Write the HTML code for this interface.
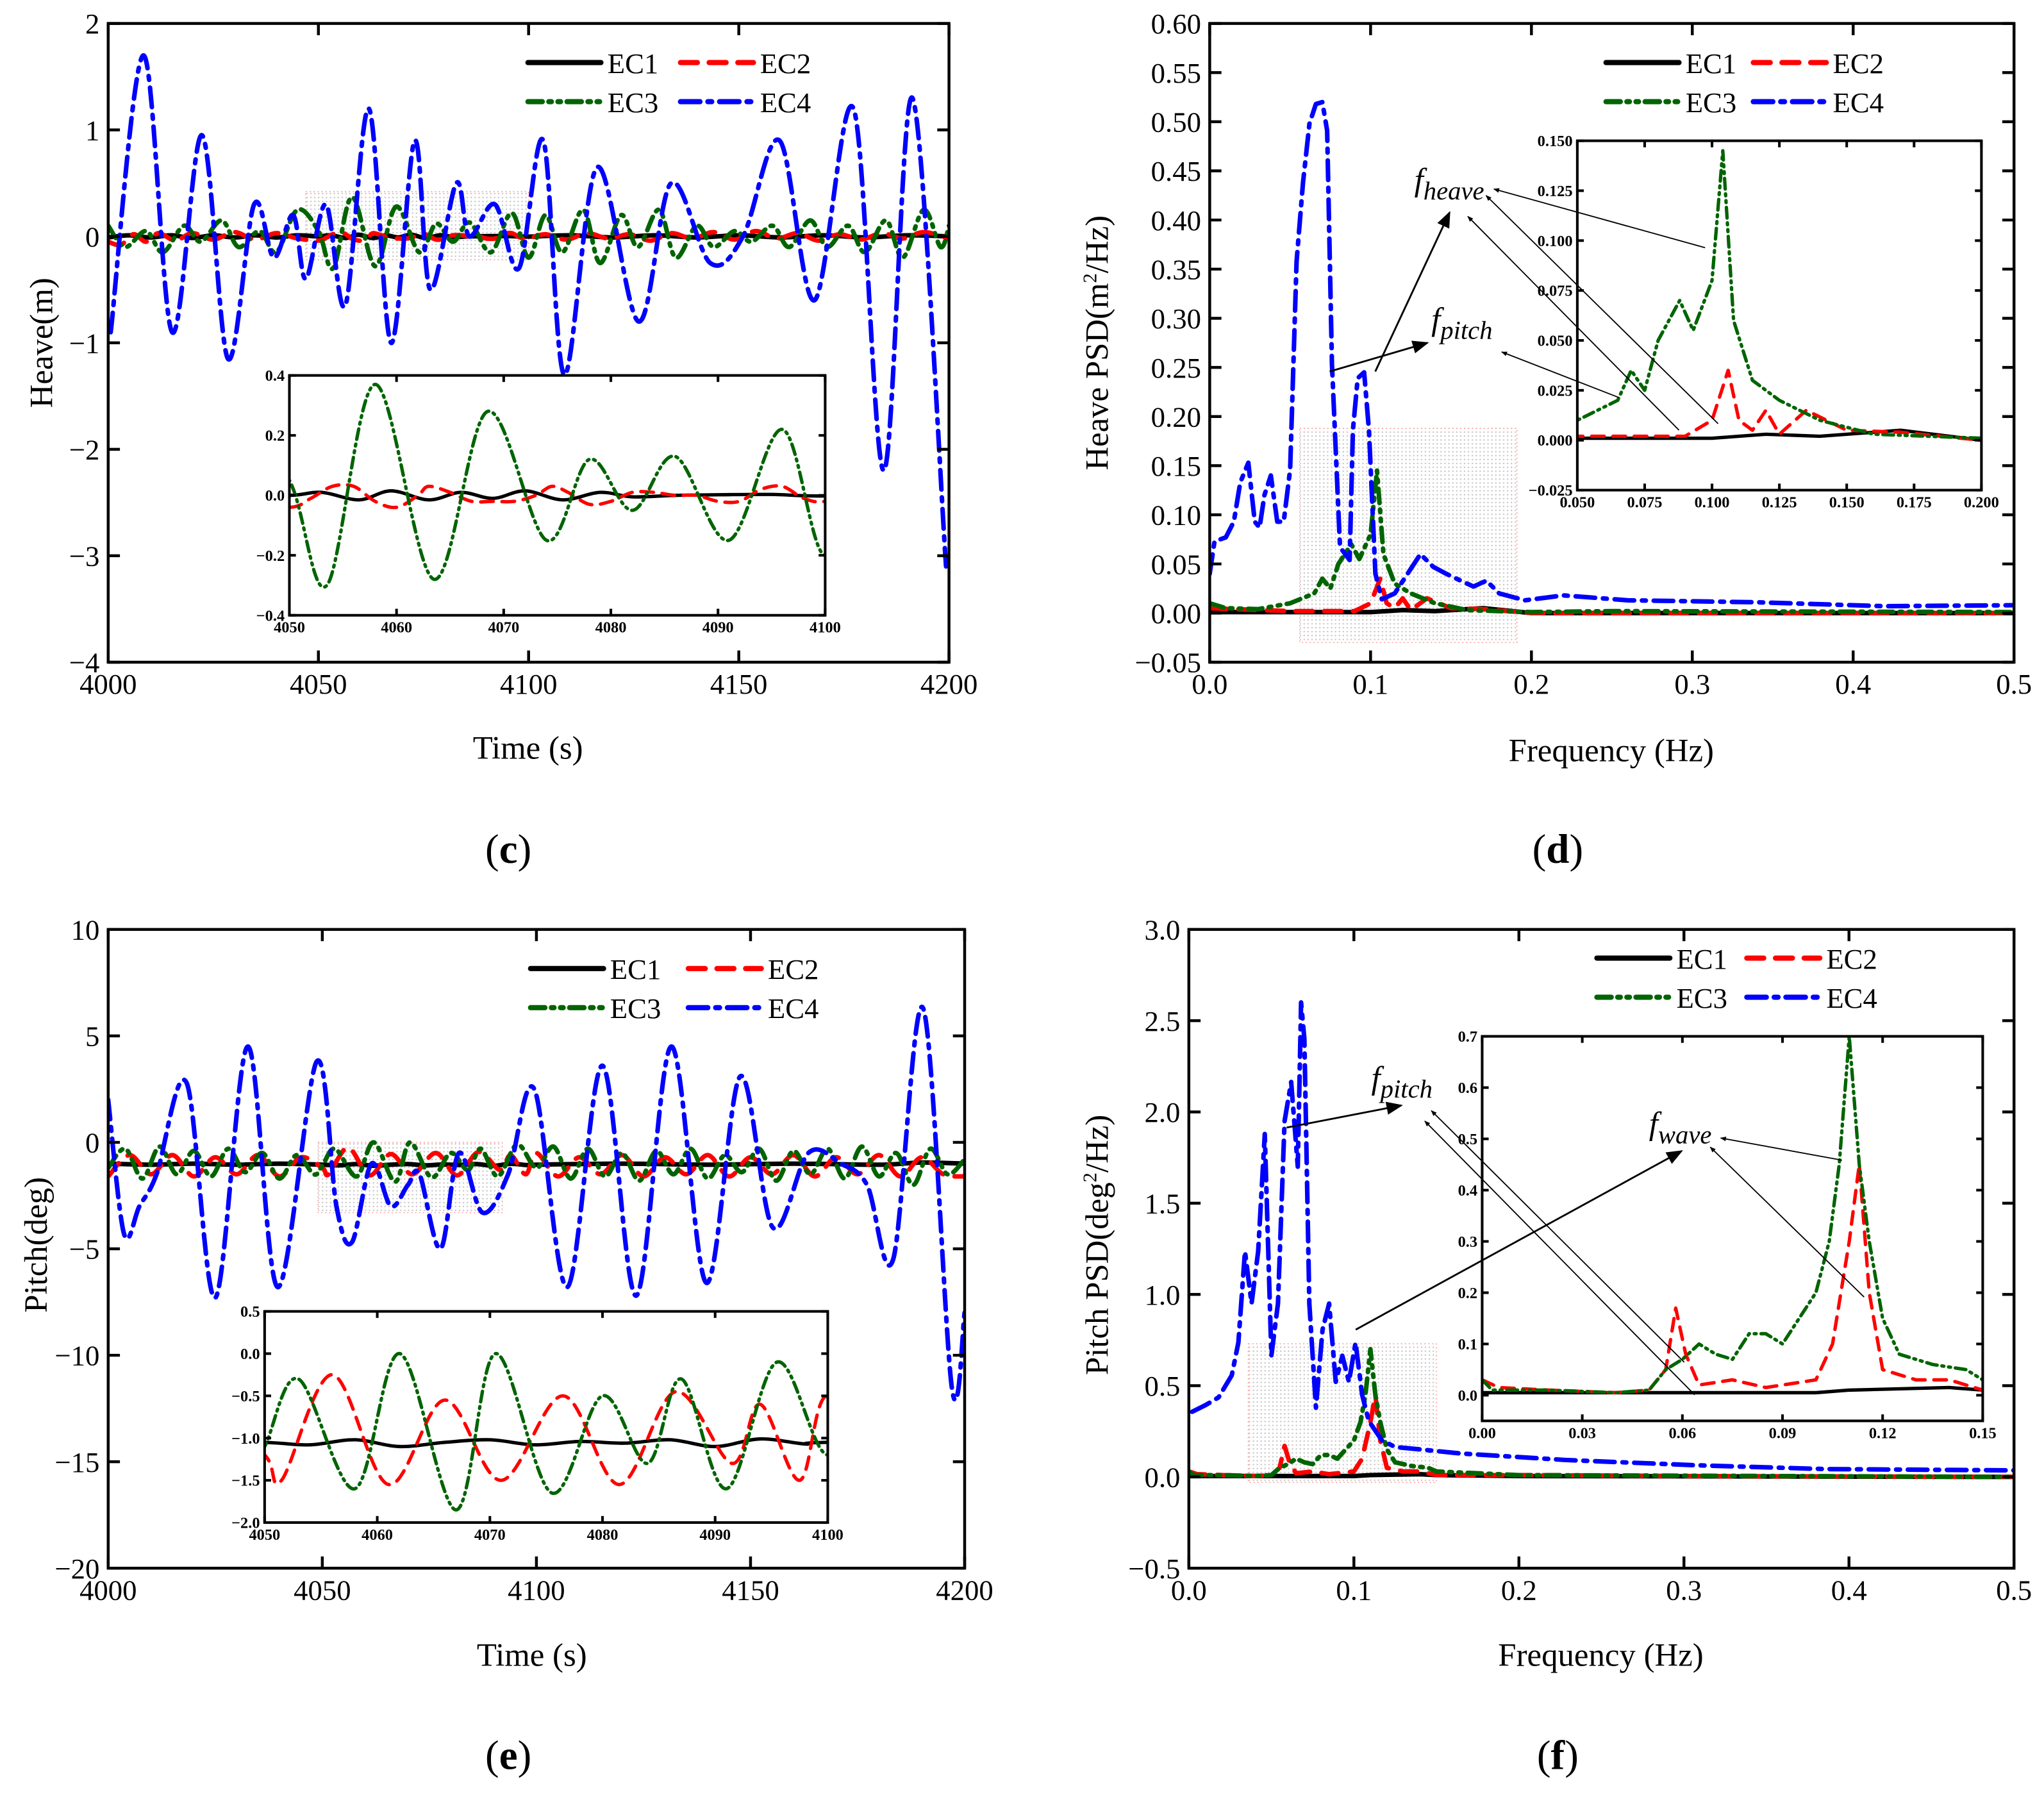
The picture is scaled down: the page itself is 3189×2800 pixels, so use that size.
<!DOCTYPE html>
<html><head><meta charset="utf-8"><style>
html,body{margin:0;padding:0;background:#fff;width:3189px;height:2800px;overflow:hidden;}
svg{display:block;font-family:"Liberation Serif",serif;}
</style></head><body>
<svg id="fig" xmlns="http://www.w3.org/2000/svg" width="3189" height="2800" viewBox="0 0 1568 1377" preserveAspectRatio="none">
<defs>
<pattern id="dots" width="3" height="3" patternUnits="userSpaceOnUse"><rect width="3" height="3" fill="#fff"/><circle cx="1.5" cy="1.5" r="0.6" fill="#bbb"/></pattern>
<marker id="ah" viewBox="0 0 10 10" refX="9" refY="5" markerWidth="9" markerHeight="9" orient="auto"><path d="M0,1 L10,5 L0,9 z" fill="#000"/></marker>
<marker id="ahs" viewBox="0 0 10 10" refX="9" refY="5" markerWidth="5" markerHeight="5" orient="auto"><path d="M0,1 L10,5 L0,9 z" fill="#000"/></marker>
</defs>
</svg>
<script>
// ---------- Panel c data (Heave time series) ----------
const cBlueT=[4000.6,4008.4,4015.2,4022.3,4028.5,4034.7,4039.4,4044,4047,4051.8,4056.4,4062,4067.3,4072.9,4076.6,4082.8,4085.9,4092,4097.7,4103.5,4108.5,4116.3,4126.2,4133.9,4143.2,4151,4159.7,4168,4177.3,4184.5,4191.3,4199.3];
const cBlueV=[-0.9,1.7,-0.9,0.95,-1.15,0.3,-0.2,0.2,-0.4,0.3,-0.65,1.2,-1.0,0.9,-0.5,0.5,0,0.3,-0.3,0.9,-1.3,0.65,-0.8,0.5,-0.25,0.0,0.9,-0.6,1.2,-2.2,1.3,-3.1];
const cGreenT=[4000,4004,4009,4013,4018,4022,4027,4031,4036,4040,4045,4050,4053.5,4058,4063.5,4068.5,4074,4078,4082,4086,4091,4096,4100,4104,4108,4113,4117,4122,4126,4131,4135,4140,4144,4149,4153,4158,4162,4167,4171,4176,4180,4185,4189,4194,4198,4200];
const cGreenV=[0.1,-0.1,0.05,-0.15,0.1,-0.05,0.15,-0.1,0.05,-0.15,0.25,0.05,-0.3,0.37,-0.28,0.28,-0.15,0.12,-0.05,0.13,-0.15,0.22,-0.2,0.2,-0.15,0.25,-0.25,0.2,-0.1,0.25,-0.2,0.1,-0.1,0.05,-0.05,0.1,-0.1,0.15,-0.1,0.1,-0.15,0.15,-0.2,0.25,-0.1,0.1];
const cRedT=[4000,4003,4006,4009,4012,4016,4020,4025,4030,4035,4040,4045,4050,4052,4054,4056,4058,4060,4062,4063,4065,4067,4069,4071,4073,4074.5,4076,4078,4080,4082,4084,4086,4088,4090,4092,4094,4096,4098,4100,4104,4109,4114,4119,4124,4129,4134,4139,4144,4149,4154,4159,4164,4169,4174,4179,4184,4189,4194,4200];
const cRedV=[-0.05,-0.08,0.02,-0.05,0.03,-0.04,0.03,-0.03,0.04,-0.03,0.03,-0.02,-0.04,-0.01,0.03,0.03,-0.02,-0.04,0.0,0.03,0.01,-0.02,-0.02,-0.02,0.0,0.03,0.01,-0.03,-0.02,0.01,0.01,0.0,0.0,-0.02,-0.02,0.02,0.03,-0.01,-0.02,0.02,-0.03,0.03,-0.02,0.02,-0.04,0.03,-0.02,0.04,-0.03,0.05,-0.02,0.03,-0.04,0.02,-0.03,0.03,-0.02,0.04,-0.02];
const cBlackT=[4000,4005,4010,4015,4020,4025,4030,4035,4040,4045,4050,4053,4056.5,4059.5,4063,4066,4069,4072,4075.5,4079,4082,4086,4090,4095,4100,4110,4120,4130,4140,4150,4160,4170,4180,4190,4200];
const cBlackV=[-0.01,0.01,-0.01,0.01,-0.015,0.01,-0.01,0.01,-0.01,0.01,0,0.01,-0.015,0.015,-0.015,0.01,-0.01,0.015,-0.015,0.01,-0.005,0,0.002,0.003,-0.002,0.01,-0.01,0.01,-0.01,0.01,-0.01,0.01,-0.01,0.01,0];
// ---------- Panel d data (Heave PSD) ----------
const dBlueF=[0,0.003,0.010,0.015,0.019,0.024,0.028,0.031,0.034,0.038,0.042,0.046,0.050,0.054,0.058,0.062,0.066,0.070,0.073,0.076,0.081,0.087,0.089,0.092,0.096,0.099,0.103,0.107,0.115,0.123,0.131,0.139,0.147,0.156,0.164,0.172,0.180,0.196,0.22,0.26,0.34,0.42,0.5];
const dBlueV=[0.04,0.073,0.077,0.093,0.133,0.153,0.093,0.087,0.120,0.140,0.093,0.093,0.146,0.358,0.438,0.498,0.518,0.520,0.491,0.253,0.067,0.054,0.186,0.239,0.245,0.186,0.040,0.014,0.020,0.040,0.060,0.047,0.040,0.033,0.027,0.033,0.020,0.013,0.018,0.013,0.011,0.007,0.008];
const dGreenF=[0,0.01,0.03,0.05,0.065,0.07,0.075,0.08,0.088,0.093,0.1,0.104,0.108,0.115,0.125,0.14,0.16,0.2,0.25,0.5];
const dGreenV=[0.01,0.005,0.004,0.01,0.02,0.035,0.025,0.05,0.07,0.055,0.08,0.145,0.06,0.03,0.02,0.01,0.003,0.001,0.002,0.001];
const dRedF=[0,0.05,0.09,0.1,0.106,0.11,0.115,0.12,0.125,0.135,0.15,0.17,0.2,0.5];
const dRedV=[0.005,0.002,0.002,0.01,0.035,0.01,0.005,0.015,0.003,0.015,0.005,0.004,0,0];
const dBlackF=[0,0.1,0.12,0.14,0.16,0.17,0.2,0.5];
const dBlackV=[0.001,0.001,0.003,0.002,0.004,0.005,0,0];
// ---------- Panel e data (Pitch time series) ----------
const eBlueT=[4000,4003.7,4007.3,4011.3,4018.3,4025,4032.6,4039.6,4048.7,4053.3,4056.9,4061.5,4066,4070,4072.7,4077.6,4081.9,4087.4,4093.4,4099.5,4107.2,4115.4,4123.3,4131.5,4139.7,4147.6,4155.2,4163.5,4171.1,4177.2,4183.3,4190.3,4197,4200];
const eBlueV=[2,-4.3,-3,-1.5,2.8,-7.3,4.5,-6.8,3.8,-3,-4.7,-1,-3,-2,-1.5,-5,-0.5,-3.3,-1.5,2.5,-6.8,3.6,-7.2,4.5,-6.6,3.1,-4,-0.5,-1,-2,-5.5,6.3,-11.5,-8];
const eGreenT=[4000,4004,4008,4012,4016,4020,4024,4028,4032,4036,4040,4044,4048,4050,4053,4058,4062,4067,4070.5,4075.5,4080,4084,4087,4091,4095.5,4100,4104,4108,4112,4116,4120,4124,4128,4132,4136,4140,4144,4148,4152,4156,4160,4164,4168,4172,4176,4180,4184,4188,4192,4196,4200];
const eGreenV=[-1.2,-0.3,-1.7,-0.2,-1.5,-0.4,-1.6,-0.3,-1.4,-0.5,-1.7,-0.6,-1.5,-1.1,-0.3,-1.6,0.0,-1.85,0.0,-1.65,-0.5,-1.3,-0.3,-1.6,-0.1,-1.2,-0.2,-1.7,-0.3,-1.6,-0.5,-1.8,-0.4,-1.5,-0.3,-1.7,-0.6,-1.4,-0.3,-1.8,-0.4,-1.5,-0.3,-1.7,-0.2,-1.6,-0.5,-2.0,-0.3,-1.5,-0.8];
const eRedT=[4000,4005,4010,4015,4020,4025,4030,4035,4040,4045,4050,4051.5,4056,4061,4066,4071,4076.5,4081.5,4086.5,4091.5,4094,4097.5,4100,4105,4110,4115,4120,4125,4130,4135,4140,4145,4150,4155,4160,4165,4170,4175,4180,4185,4190,4195,4200];
const eRedV=[-1.6,-0.6,-1.5,-0.6,-1.6,-0.7,-1.5,-0.6,-1.6,-0.7,-1.2,-1.5,-0.25,-1.55,-0.55,-1.5,-0.5,-1.55,-0.45,-1.3,-0.6,-1.5,-0.5,-1.6,-0.7,-1.5,-0.6,-1.6,-0.7,-1.5,-0.6,-1.6,-0.7,-1.5,-0.6,-1.6,-0.7,-1.5,-0.6,-1.6,-0.7,-1.5,-1.6];
const eBlackT=[4000,4010,4020,4030,4040,4050,4054,4058,4062,4066,4070,4074,4078,4082,4086,4090,4094,4098,4100,4120,4140,4160,4180,4190,4200];
const eBlackV=[-1.0,-1.05,-1.0,-1.05,-1.0,-1.05,-1.08,-1.02,-1.1,-1.05,-1.02,-1.08,-1.04,-1.06,-1.02,-1.1,-1.01,-1.07,-1.05,-1.0,-1.05,-1.0,-1.05,-0.95,-1.0];
// ---------- Panel f data (Pitch PSD) ----------
const fBlueF=[0.002,0.010,0.018,0.026,0.030,0.034,0.038,0.042,0.046,0.050,0.054,0.058,0.062,0.066,0.068,0.070,0.073,0.077,0.081,0.085,0.089,0.093,0.097,0.101,0.105,0.109,0.117,0.125,0.141,0.164,0.228,0.307,0.386,0.5];
const fBlueV=[0.357,0.393,0.436,0.557,0.736,1.236,0.95,1.236,1.879,0.664,0.95,1.95,2.164,1.7,2.6,2.4,0.95,0.379,0.807,0.95,0.521,0.664,0.521,0.736,0.45,0.307,0.2,0.164,0.15,0.129,0.093,0.064,0.043,0.036];
const fGreenF=[0,0.003,0.02,0.04,0.05,0.055,0.06,0.065,0.07,0.075,0.08,0.085,0.09,0.095,0.1,0.104,0.107,0.11,0.113,0.116,0.12,0.125,0.135,0.145,0.15,0.2,0.5];
const fGreenV=[0.03,0.01,0.01,0.005,0.01,0.05,0.07,0.1,0.08,0.07,0.12,0.12,0.1,0.15,0.2,0.3,0.45,0.7,0.45,0.3,0.15,0.08,0.06,0.05,0.03,0.01,0];
const fRedF=[0,0.005,0.02,0.04,0.05,0.055,0.058,0.061,0.065,0.075,0.085,0.1,0.105,0.11,0.113,0.116,0.12,0.13,0.14,0.15,0.2,0.3,0.5];
const fRedV=[0.03,0.015,0.01,0.005,0.01,0.05,0.17,0.08,0.02,0.03,0.015,0.03,0.1,0.3,0.45,0.2,0.05,0.03,0.03,0.01,0.01,0.005,0];
const fBlackF=[0,0.1,0.11,0.14,0.15,0.2,0.5];
const fBlackV=[0.005,0.005,0.01,0.015,0.01,0.005,0];

const NS='http://www.w3.org/2000/svg';
const svg=document.getElementById('fig');
function mk(tag,attrs,parent){const e=document.createElementNS(NS,tag);for(const k in attrs)e.setAttribute(k,attrs[k]);(parent||svg).appendChild(e);return e;}
const STY={
 black:{stroke:'#000',dash:''},
 red:{stroke:'#ff0000',dash:'13,9'},
 green:{stroke:'#006400',dash:'11,5,2,5,2,5'},
 blue:{stroke:'#0000ff',dash:'15,6,3,6'}
};
let clipId=0;
function axes(box,xd,yd){
 const sx=v=>box.x0+(v-xd[0])/(xd[1]-xd[0])*(box.x1-box.x0);
 const sy=v=>box.y1-(v-yd[0])/(yd[1]-yd[0])*(box.y1-box.y0);
 return {sx,sy};
}
function curve(pts){
 let d='M'+pts[0][0].toFixed(2)+','+pts[0][1].toFixed(2);
 for(let i=0;i<pts.length-1;i++){
  const p0=pts[Math.max(0,i-1)],p1=pts[i],p2=pts[i+1],p3=pts[Math.min(pts.length-1,i+2)];
  const c1=[p1[0]+(p2[0]-p0[0])/6,p1[1]+(p2[1]-p0[1])/6];
  const c2=[p2[0]-(p3[0]-p1[0])/6,p2[1]-(p3[1]-p1[1])/6];
  d+='C'+c1[0].toFixed(2)+','+c1[1].toFixed(2)+' '+c2[0].toFixed(2)+','+c2[1].toFixed(2)+' '+p2[0].toFixed(2)+','+p2[1].toFixed(2);
 }
 return d;
}
function lineD(pts){return pts.map((p,i)=>(i?'L':'M')+p[0].toFixed(2)+','+p[1].toFixed(2)).join('');}
function panel(o){
 const g=mk('g',{});
 
 
 const {sx,sy}=axes(o.box,o.xd,o.yd);
 if(o.bg){const r=mk('rect',{x:o.box.x0,y:o.box.y0,width:o.box.x1-o.box.x0,height:o.box.y1-o.box.y0,fill:'#fff'},g);
  
  }
 const id='clip'+(clipId++);
 const cp=mk('clipPath',{id:id},g);
 mk('rect',{x:o.box.x0,y:o.box.y0,width:o.box.x1-o.box.x0,height:o.box.y1-o.box.y0},cp);
 if(o.shade){const s=o.shade;const r=mk('rect',{x:sx(s[0]),y:sy(s[3]),width:sx(s[1])-sx(s[0]),height:sy(s[2])-sy(s[3]),fill:'url(#dots)',stroke:'#ff8080','stroke-width':0.7,'stroke-dasharray':'1,2',opacity:0.8},g);
  
  }
 const sg=mk('g',{'clip-path':'url(#'+id+')'},g);
 o.series.forEach(s=>{
  const pts=s.x.map((v,i)=>[sx(v),sy(s.y[i])]);
  const st=STY[s.c];
  const p=mk('path',{d:o.smooth?curve(pts):lineD(pts),fill:'none',stroke:st.stroke,'stroke-width':o.lw,'stroke-dasharray':st.dash?st.dash.split(',').map(v=>v*o.lw/3.5).join(','):'none','stroke-linejoin':'round','stroke-linecap':'round'},sg);
  
  
 });
 const fr=mk('rect',{x:o.box.x0,y:o.box.y0,width:o.box.x1-o.box.x0,height:o.box.y1-o.box.y0,fill:'none',stroke:'#000','stroke-width':o.fw},g);
 
 
 const tl=o.tl;
 o.xt.forEach(v=>{const x=sx(v);
  mk('line',{x1:x,x2:x,y1:o.box.y1,y2:o.box.y1-tl,stroke:'#000','stroke-width':o.fw},g);
  mk('line',{x1:x,x2:x,y1:o.box.y0,y2:o.box.y0+tl,stroke:'#000','stroke-width':o.fw},g);
  const t=mk('text',{x:x,y:o.box.y1+o.fs*1.1,'font-size':o.fs,'text-anchor':'middle','font-weight':o.bold?'bold':'normal'},g);
  t.textContent=o.xf(v);
  
  
 });
 o.yt.forEach(v=>{const y=sy(v);
  mk('line',{x1:o.box.x0,x2:o.box.x0+tl,y1:y,y2:y,stroke:'#000','stroke-width':o.fw},g);
  mk('line',{x1:o.box.x1,x2:o.box.x1-tl,y1:y,y2:y,stroke:'#000','stroke-width':o.fw},g);
  const t=mk('text',{x:o.box.x0-o.fs*0.3,y:y+o.fs*0.35,'font-size':o.fs,'text-anchor':'end','font-weight':o.bold?'bold':'normal'},g);
  t.textContent=o.yf(v);
  
  
 });
 return {sx,sy};
}
const neg=s=>s.replace('-','\u2212');
function rng(a,b,s){const r=[];for(let i=0;a+i*s<=b+1e-9;i++)r.push(+(a+i*s).toFixed(4));return r;}
function txt(x,y,s,fs,name,extra){const t=mk('text',Object.assign({x:x,y:y,'font-size':fs},extra||{}));t.textContent=s;
 
 return t;}
function legend(x0,x1,y,name){
 const items=[['black','EC1',0,0],['red','EC2',1,0],['green','EC3',0,1],['blue','EC4',1,1]];
 const g=mk('g',{});
 
 
 items.forEach(it=>{const bx=it[2]?x1:x0, yy=y+it[3]*30;const st=STY[it[0]];
  const l=mk('line',{x1:bx,x2:bx+56,y1:yy,y2:yy,stroke:st.stroke,'stroke-width':4,'stroke-dasharray':st.dash||'none','stroke-linecap':'round'},g);
  
  
  const t=mk('text',{x:bx+61,y:yy+8,'font-size':22},g);t.textContent=it[1];
  
  
 });
}
function arrow(x1,y1,x2,y2,big,name){const l=mk('line',{x1,y1,x2,y2,stroke:'#000','stroke-width':big?1.4:0.9,'marker-end':big?'url(#ah)':'url(#ahs)'});
 
 }
function ftext(x,y,sub,name){const t=mk('text',{x:x,y:y,'font-size':25,'font-style':'italic'});
 
 
 const a=mk('tspan',{},t);a.textContent='f';const b=mk('tspan',{'font-size':20,dy:7},t);b.textContent=sub;}

// ---------- Panel c ----------
const cSeries=[{c:'black',x:cBlackT,y:cBlackV,n:'ec1-heave-line'},{c:'red',x:cRedT,y:cRedV,n:'ec2-heave-line'},{c:'green',x:cGreenT,y:cGreenV,n:'ec3-heave-line'},{c:'blue',x:cBlueT,y:cBlueV,n:'ec4-heave-line'}];
panel({name:'heave-time-chart',box:{x0:83,x1:728,y0:18,y1:508},xd:[4000,4200],yd:[-4,2],xt:rng(4000,4200,50),yt:rng(-4,2,1),xf:v=>''+v,yf:v=>neg(''+v),fs:22,fw:2.2,tl:9,lw:3.5,smooth:true,series:cSeries,shade:[4047,4100,-0.22,0.42]});
legend(405,522,48,'heave-time-legend');
panel({name:'heave-time-inset',bg:true,box:{x0:222,x1:633,y0:288,y1:472},xd:[4050,4100],yd:[-0.4,0.4],xt:rng(4050,4100,10),yt:rng(-0.4,0.4,0.2),xf:v=>''+v,yf:v=>neg(v.toFixed(1)),fs:12,bold:true,fw:2,tl:5,lw:2.6,smooth:true,series:cSeries.slice(0,3)});
txt(405,582,'Time (s)',25,'x-axis-title-c',{'text-anchor':'middle'});
txt(40,263,'Heave(m)',25,'y-axis-title-c',{'text-anchor':'middle',transform:'rotate(-90 40 263)'});

// ---------- Panel d ----------
const dSeries=[{c:'black',x:dBlackF,y:dBlackV,n:'ec1-heave-psd-line'},{c:'red',x:dRedF,y:dRedV,n:'ec2-heave-psd-line'},{c:'green',x:dGreenF,y:dGreenV,n:'ec3-heave-psd-line'},{c:'blue',x:dBlueF,y:dBlueV,n:'ec4-heave-psd-line'}];
panel({name:'heave-psd-chart',box:{x0:928,x1:1545,y0:18,y1:508},xd:[0,0.5],yd:[-0.05,0.6],xt:rng(0,0.5,0.1),yt:rng(-0.05,0.6,0.05),xf:v=>v.toFixed(1),yf:v=>neg(v.toFixed(2)),fs:22,fw:2.2,tl:9,lw:3.5,smooth:false,series:dSeries,shade:[0.056,0.191,-0.03,0.188]});
legend(1232,1345,48,'heave-psd-legend');
panel({name:'heave-psd-inset',bg:true,box:{x0:1210,x1:1520,y0:108,y1:376},xd:[0.05,0.2],yd:[-0.025,0.15],xt:rng(0.05,0.2,0.025),yt:rng(-0.025,0.15,0.025),xf:v=>v.toFixed(3),yf:v=>neg(v.toFixed(3)),fs:12,bold:true,fw:2,tl:5,lw:2.6,smooth:false,series:dSeries.slice(0,3)});
txt(1236,584,'Frequency (Hz)',25,'x-axis-title-d',{'text-anchor':'middle'});
{const t=txt(850,263,'Heave PSD(m',25,'y-axis-title-d',{'text-anchor':'middle',transform:'rotate(-90 850 263)'});
 const s=mk('tspan',{'font-size':15,dy:-9},t);s.textContent='2';const s2=mk('tspan',{dy:9},t);s2.textContent='/Hz)';}
ftext(1085,146,'heave','f-heave-annotation');
ftext(1098,253,'pitch','f-pitch-annotation-d');
arrow(1055,285,1112,163,true,'arrow-heave-main');
arrow(1020,285,1095,263,true,'arrow-pitch-main');
arrow(1308,190,1146,145,false,'arrow-heave-inset-1');
arrow(1318,325,1140,150,false,'arrow-heave-inset-2');
arrow(1288,330,1126,166,false,'arrow-heave-inset-3');
arrow(1242,305,1152,270,false,'arrow-pitch-inset');

// ---------- Panel e ----------
const eSeries=[{c:'black',x:eBlackT,y:eBlackV,n:'ec1-pitch-line'},{c:'red',x:eRedT,y:eRedV,n:'ec2-pitch-line'},{c:'green',x:eGreenT,y:eGreenV,n:'ec3-pitch-line'},{c:'blue',x:eBlueT,y:eBlueV,n:'ec4-pitch-line'}];
panel({name:'pitch-time-chart',box:{x0:83,x1:740,y0:713,y1:1203},xd:[4000,4200],yd:[-20,10],xt:rng(4000,4200,50),yt:rng(-20,10,5),xf:v=>''+v,yf:v=>neg(''+v),fs:22,fw:2.2,tl:9,lw:3.5,smooth:true,series:eSeries,shade:[4049,4092,-3.3,0.0]});
legend(407,528,743,'pitch-time-legend');
panel({name:'pitch-time-inset',bg:true,box:{x0:203,x1:635,y0:1006,y1:1168},xd:[4050,4100],yd:[-2,0.5],xt:rng(4050,4100,10),yt:rng(-2,0.5,0.5),xf:v=>''+v,yf:v=>neg(v.toFixed(1)),fs:12,bold:true,fw:2,tl:5,lw:2.6,smooth:true,series:eSeries.slice(0,3)});
txt(408,1278,'Time (s)',25,'x-axis-title-e',{'text-anchor':'middle'});
txt(36,955,'Pitch(deg)',25,'y-axis-title-e',{'text-anchor':'middle',transform:'rotate(-90 36 955)'});

// ---------- Panel f ----------
const fSeries=[{c:'black',x:fBlackF,y:fBlackV,n:'ec1-pitch-psd-line'},{c:'red',x:fRedF,y:fRedV,n:'ec2-pitch-psd-line'},{c:'green',x:fGreenF,y:fGreenV,n:'ec3-pitch-psd-line'},{c:'blue',x:fBlueF,y:fBlueV,n:'ec4-pitch-psd-line'}];
panel({name:'pitch-psd-chart',box:{x0:912,x1:1545,y0:713,y1:1203},xd:[0,0.5],yd:[-0.5,3],xt:rng(0,0.5,0.1),yt:rng(-0.5,3,0.5),xf:v=>v.toFixed(1),yf:v=>neg(v.toFixed(1)),fs:22,fw:2.2,tl:9,lw:3.5,smooth:false,series:fSeries,shade:[0.036,0.15,-0.03,0.73]});
legend(1225,1340,735,'pitch-psd-legend');
panel({name:'pitch-psd-inset',bg:true,box:{x0:1137,x1:1521,y0:795,y1:1090},xd:[0,0.15],yd:[-0.05,0.7],xt:rng(0,0.15,0.03),yt:rng(0,0.7,0.1),xf:v=>v.toFixed(2),yf:v=>v.toFixed(1),fs:12,bold:true,fw:2,tl:5,lw:2.6,smooth:false,series:fSeries.slice(0,3)});
txt(1228,1278,'Frequency (Hz)',25,'x-axis-title-f',{'text-anchor':'middle'});
{const t=txt(850,955,'Pitch PSD(deg',25,'y-axis-title-f',{'text-anchor':'middle',transform:'rotate(-90 850 955)'});
 const s=mk('tspan',{'font-size':15,dy:-9},t);s.textContent='2';const s2=mk('tspan',{dy:9},t);s2.textContent='/Hz)';}
ftext(1052,835,'pitch','f-pitch-annotation-f');
ftext(1265,870,'wave','f-wave-annotation');
arrow(987,865,1075,848,true,'arrow-pitch-main-f');
arrow(1040,1020,1290,883,true,'arrow-wave-main');
arrow(1292,1045,1098,852,false,'arrow-pitch-inset-1');
arrow(1300,1070,1093,860,false,'arrow-pitch-inset-2');
arrow(1413,890,1320,873,false,'arrow-wave-inset-1');
arrow(1430,995,1312,880,false,'arrow-wave-inset-2');

// ---------- panel labels ----------
[['c',390],['d',1195]].forEach(p=>{const t=txt(p[1],662,'(',32,'panel-label-'+p[0],{'text-anchor':'middle'});const b=mk('tspan',{'font-weight':'bold'},t);b.textContent=p[0];const e=mk('tspan',{},t);e.textContent=')';});
[['e',390],['f',1195]].forEach(p=>{const t=txt(p[1],1357,'(',32,'panel-label-'+p[0],{'text-anchor':'middle'});const b=mk('tspan',{'font-weight':'bold'},t);b.textContent=p[0];const e=mk('tspan',{},t);e.textContent=')';});
</script>
</body></html>
